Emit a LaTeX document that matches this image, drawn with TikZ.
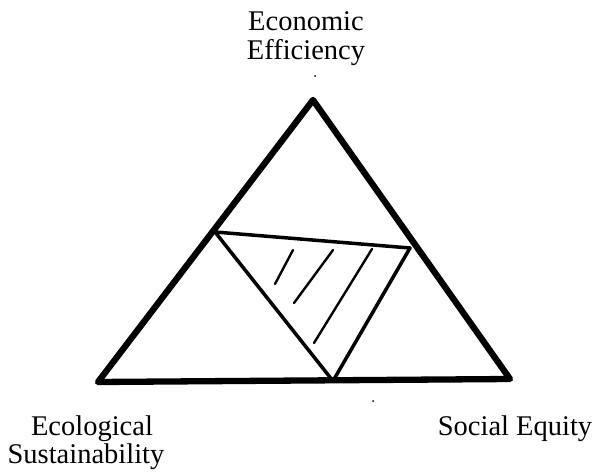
\documentclass[tikz,border=0pt]{standalone}
\usepackage{fontspec}
\setmainfont{Liberation Serif}
\begin{document}
\begin{tikzpicture}[x=1pt,y=-1pt,
  outerline/.style={line width=6.3pt, line join=round, line cap=round},
  innerline/.style={line width=3.5pt, line join=round, line cap=round},
  hatchline/.style={line width=2.4pt, line cap=round},
  lbl/.style={font=\fontsize{28.5}{30}\selectfont, anchor=base, inner sep=0pt}]
\useasboundingbox (0,0) rectangle (599,473);
% outer triangle
\coordinate (A) at (313,100);
\coordinate (B) at (98,382);
\coordinate (C) at (510,379);
% inner triangle
\coordinate (L) at (215,232);
\coordinate (R) at (410,248);
\coordinate (M) at (333,381);
\draw[outerline] (A) -- (B) -- (C) -- cycle;
\draw[innerline] (L) -- (R) -- (M) -- cycle;
% hatching
\coordinate (h1a) at (293,250); \coordinate (h1b) at (275,284);
\coordinate (h2a) at (333,250); \coordinate (h2b) at (294,303);
\coordinate (h3a) at (372,249); \coordinate (h3b) at (314,343);
\draw[hatchline] (h1a) -- (h1b);
\draw[hatchline] (h2a) -- (h2b);
\draw[hatchline] (h3a) -- (h3b);
% labels
\node[lbl] (econ1) at (306,31) {Economic};
\node[lbl] (econ2) at (306,60) {Efficiency};
\node[lbl] (eco1) at (92,435) {Ecological};
\node[lbl] (eco2) at (86,463) {Sustainability};
\node[lbl] (soc) at (515,435) {Social Equity};
% specks
\fill (315,76) circle (1pt);
\fill (373,401) circle (1pt);
\end{tikzpicture}
\end{document}
